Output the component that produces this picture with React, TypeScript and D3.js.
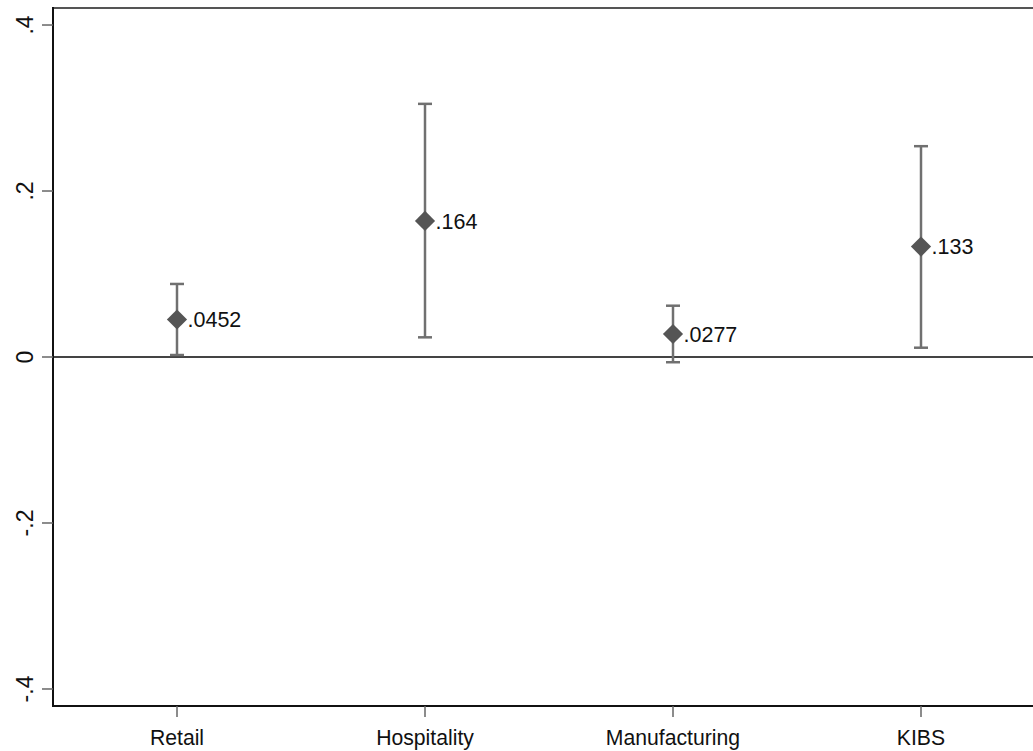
import React from "react";
import * as d3 from "d3";

const categories: string[] = ["Retail", "Hospitality", "Manufacturing", "KIBS"];
const estimates: number[] = [0.0452, 0.164, 0.0277, 0.133];
const lowerCI: number[] = [0.0024, 0.0237, -0.0063, 0.0112];
const upperCI: number[] = [0.088, 0.305, 0.0618, 0.254];
const estimateLabels: string[] = [".0452", ".164", ".0277", ".133"];
const yTicks: number[] = [-0.4, -0.2, 0, 0.2, 0.4];
const yTickLabels: string[] = ["-.4", "-.2", "0", ".2", ".4"];

const W = 1033;
const H = 751;
const left = 53;
const top = 8;
const bottom = 706;
const right = 1045;

export default function App() {
  const x = d3.scalePoint<string>().domain(categories).range([left, right]).padding(0.5);
  const y = d3.scaleLinear().domain([-0.4205, 0.4205]).range([bottom, top]);
  const font = "'Liberation Sans', Arial, sans-serif";
  const diamond = d3.symbol().type(d3.symbolDiamond2).size(260)();

  return (
    <svg width={W} height={H} style={{ position: "absolute", left: 0, top: 0, background: "#fff" }} fontFamily={font}>
      <rect x={0} y={0} width={W} height={H} fill="#fff" />
      {/* top border */}
      <line x1={left} x2={W} y1={top} y2={top} stroke="#555" strokeWidth={2} />
      {/* zero line */}
      <line x1={left} x2={W} y1={y(0)} y2={y(0)} stroke="#444" strokeWidth={2} />
      {/* y axis */}
      <line x1={left} x2={left} y1={top - 1} y2={bottom + 1} stroke="#111" strokeWidth={2} />
      {yTicks.map((t, i) => (
        <g key={"yt" + i}>
          <line x1={left - 11} x2={left} y1={y(t)} y2={y(t)} stroke="#666" strokeWidth={1.5} />
          <text
            transform={`translate(${33},${y(t)}) rotate(-90)`}
            textAnchor="middle"
            fontSize={23}
            fill="#111"
          >
            {yTickLabels[i]}
          </text>
        </g>
      ))}
      {/* x axis */}
      <line x1={left - 1} x2={W} y1={bottom} y2={bottom} stroke="#111" strokeWidth={2} />
      {categories.map((c) => (
        <g key={"xt" + c}>
          <line x1={x(c)!} x2={x(c)!} y1={bottom} y2={bottom + 11} stroke="#666" strokeWidth={1.5} />
          <text x={x(c)!} y={745} textAnchor="middle" fontSize={21.2} fill="#111">
            {c}
          </text>
        </g>
      ))}
      {/* error bars & points */}
      {categories.map((c, i) => {
        const cx = x(c)!;
        return (
          <g key={"pt" + c}>
            <line x1={cx} x2={cx} y1={y(lowerCI[i])} y2={y(upperCI[i])} stroke="#707070" strokeWidth={2.5} />
            <line x1={cx - 7} x2={cx + 7} y1={y(upperCI[i])} y2={y(upperCI[i])} stroke="#707070" strokeWidth={2.5} />
            <line x1={cx - 7} x2={cx + 7} y1={y(lowerCI[i])} y2={y(lowerCI[i])} stroke="#707070" strokeWidth={2.5} />
            <path d={diamond!} transform={`translate(${cx},${y(estimates[i])})`} fill="#555" />
            <text x={cx + 10.5} y={y(estimates[i]) + 7.7} fontSize={21.5} fill="#111">
              {estimateLabels[i]}
            </text>
          </g>
        );
      })}
    </svg>
  );
}
